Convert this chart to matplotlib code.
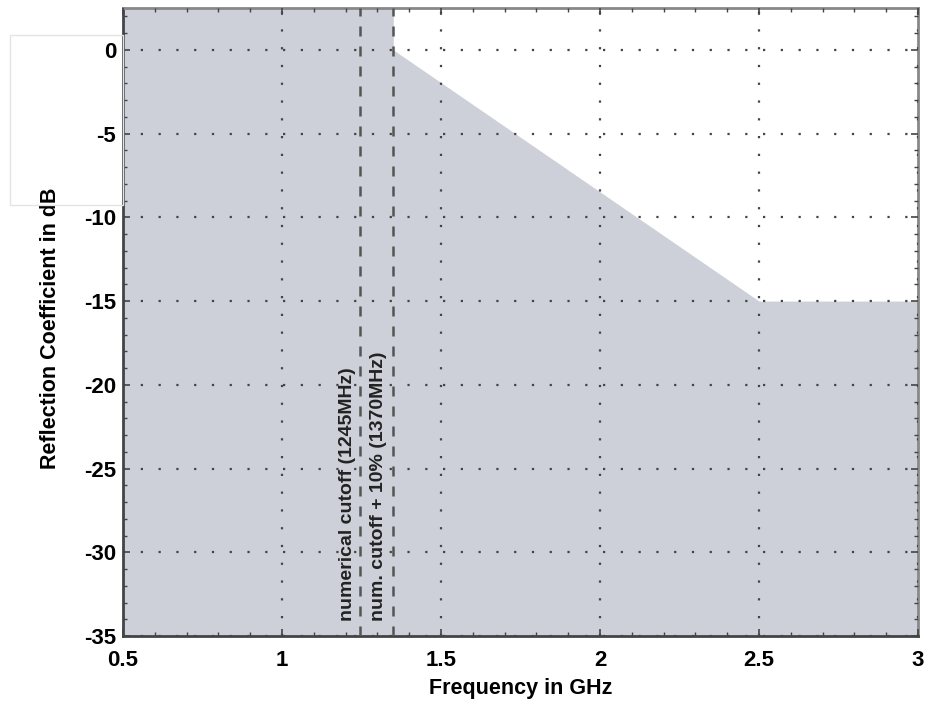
import numpy as np
import matplotlib.pyplot as plt
from matplotlib.ticker import MultipleLocator
from matplotlib.patches import Rectangle

plt.rcParams['font.family'] = ['Liberation Sans', 'DejaVu Sans']
plt.rcParams['font.weight'] = 'bold'
plt.rcParams['axes.unicode_minus'] = False

# Mask of the reflection coefficient (upper limit), GHz / dB
mask_freq = [0.5, 1.35, 1.35, 2.5, 3.0]
mask_db = [2.5, 2.5, 0.0, -15.0, -15.0]

# Vertical marker lines
cutoff_freq = [1.245, 1.35]
cutoff_labels = ['numerical cutoff (1245MHz)', 'num. cutoff + 10% (1370MHz)']

xticks = [0.5, 1, 1.5, 2, 2.5, 3]
yticks = [0, -5, -10, -15, -20, -25, -30, -35]

fig = plt.figure(figsize=(9.25, 7.03), dpi=100)
ax = fig.add_axes([123 / 925, 1 - 636 / 703, (918 - 123) / 925, (636 - 8) / 703])

# faint box left over in the top left corner
fig.patches.append(Rectangle((10 / 925, 1 - 205 / 703), 113 / 925, 170 / 703,
                             transform=fig.transFigure, fill=False,
                             edgecolor='#e4e4e4', linewidth=1.0, zorder=0))

ax.fill_between(mask_freq, mask_db, -35, color='#cdd0d8', linewidth=0, zorder=1)

for f in cutoff_freq:
    ax.axvline(f, color='#555555', linestyle=(0, (4, 4)), linewidth=1.8, zorder=3)

ax.text(1.207, -34.1, cutoff_labels[0], rotation=90, ha='center', va='bottom',
        fontsize=14, fontweight='bold', color='#222222', zorder=4)
ax.text(1.302, -34.1, cutoff_labels[1], rotation=90, ha='center', va='bottom',
        fontsize=14, fontweight='bold', color='#222222', zorder=4)

ax.set_xlim(0.5, 3)
ax.set_ylim(-35, 2.5)
ax.set_xticks(xticks)
ax.set_xticklabels(['0.5', '1', '1.5', '2', '2.5', '3'])
ax.set_yticks(yticks)
ax.xaxis.set_minor_locator(MultipleLocator(0.1))
ax.yaxis.set_minor_locator(MultipleLocator(1))

ax.grid(True, which='major', color='#444444', linestyle=(0, (1, 7)), linewidth=1.6, zorder=2)
ax.set_axisbelow(False)

ax.tick_params(which='both', direction='in', top=True, right=True, labelsize=16,
               color='#444444', pad=5)
ax.tick_params(axis='x', which='major', pad=10)
ax.tick_params(which='major', length=5, width=1.2)
ax.tick_params(which='minor', length=3, width=1.0)

for side in ['left', 'bottom']:
    ax.spines[side].set_color('#444444')
    ax.spines[side].set_linewidth(2.0)
for side in ['top', 'right']:
    ax.spines[side].set_color('#888888')
    ax.spines[side].set_linewidth(2.0)

ax.set_xlabel('Frequency in GHz', fontsize=15.5, fontweight='bold', labelpad=5)
ax.set_ylabel('Reflection Coefficient in dB', fontsize=15.5, fontweight='bold')
ax.yaxis.set_label_coords(-62 / 795, 0.49)

fig.savefig('out.png', dpi=100)
